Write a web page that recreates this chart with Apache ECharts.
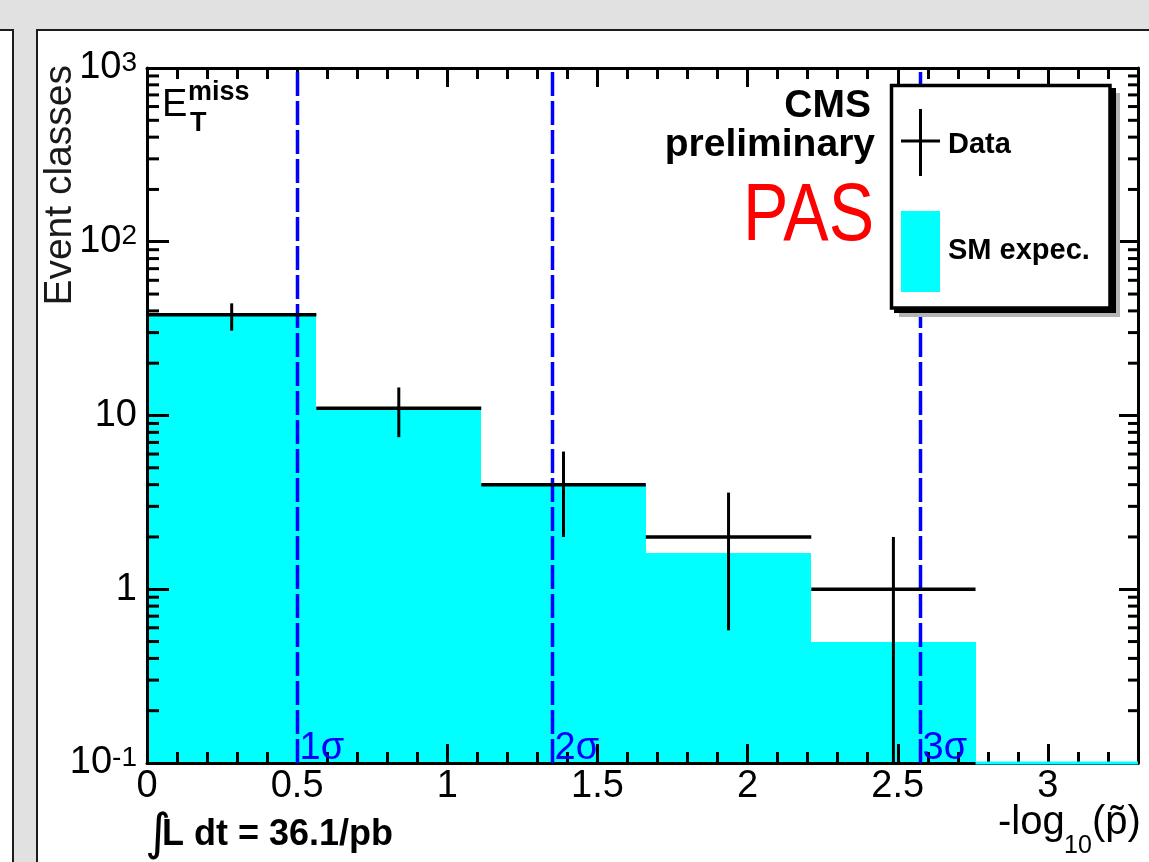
<!DOCTYPE html>
<html lang="en">
<head>
<meta charset="UTF-8">
<title>Event classes vs -log10(p)</title>
<script src="https://cdn.jsdelivr.net/npm/echarts@6.0.0/dist/echarts.min.js"></script>
<style>
  html, body { margin: 0; padding: 0; }
  body { width: 1149px; height: 862px; background: #e1e1e1; position: relative; overflow: hidden; }
  .pad-left { position: absolute; left: 0; top: 29px; width: 12px; height: 833px; background: #fff; border-top: 2px solid #1c1c1c; border-right: 2px solid #1c1c1c; }
  .pad-main { position: absolute; left: 36px; top: 29px; width: 1111px; height: 833px; background: #fff; border-top: 2px solid #1c1c1c; border-left: 2px solid #1c1c1c; }
  #chart { position: absolute; left: 0; top: 0; width: 1149px; height: 862px; }
</style>
</head>
<body>
  <div class="pad-left"></div>
  <div class="pad-main"></div>
  <div id="chart"></div>
  <script>
    // bin edges in -log10(p~)
    const binEdges = [0, 0.564, 1.113, 1.661, 2.212, 2.759, 3.3];
    // SM expectation per bin
    const smExpected = [37.9, 11.2, 3.98, 1.62, 0.497, 0];
    // observed event classes + error bars
    const dataCounts = [38, 11, 4, 2, 1, 0];
    const dataErrLow = [7.2, 3.5, 2.0, 1.42, 1.0, 0];
    const dataErrHigh = [6.2, 3.5, 2.2, 1.6, 1.0, 0];
    // 1,2,3 sigma lines
    const sigmaPos = [0.4985, 1.348, 2.575];
    const sigmaText = ['1σ', '2σ', '3σ'];
    // tick labels
    const xTickLabels = ['0', '0.5', '1', '1.5', '2', '2.5', '3'];
    const yTickVals = [0.1, 1, 10, 100, 1000];
    const yTickBase = ['10', '1', '10', '10', '10'];
    const yTickExp = ['-1', '', '', '2', '3'];

    const FONT = '"Liberation Sans", Arial, Helvetica, sans-serif';
    const X_MIN = 0, X_MAX = 3.3, Y_MIN = 0.1, Y_MAX = 1000;

    // minor log ticks 2..9 in each decade
    const yMinor = [];
    for (let d = Y_MIN; d < Y_MAX * 0.99; d *= 10) {
      for (let k = 2; k <= 9; k++) yMinor.push(+(k * d).toPrecision(3));
    }

    function xAxisCfg(pos, showLabel) {
      return {
        type: 'value', position: pos, min: X_MIN, max: X_MAX, interval: 0.5, z: 3,
        axisLine: { show: true, onZero: false, lineStyle: { color: '#000', width: 3 } },
        axisTick: { show: true, inside: true, length: 19, lineStyle: { color: '#000', width: 3 } },
        minorTick: { show: true, splitNumber: 5, length: 11, lineStyle: { color: '#000', width: 3 } },
        splitLine: { show: false },
        minorSplitLine: { show: false },
        axisLabel: {
          show: showLabel, margin: 5, fontFamily: FONT, fontSize: 38, color: '#000',
          formatter: function (val) {
            const i = Math.round(val / 0.5);
            return Math.abs(val - i * 0.5) < 1e-6 && xTickLabels[i] !== undefined ? xTickLabels[i] : '';
          }
        }
      };
    }

    function yAxisCfg(pos, showLabel, tickLen) {
      return {
        type: 'log', logBase: 10, position: pos, min: Y_MIN, max: Y_MAX, z: 3,
        axisLine: { show: true, onZero: false, lineStyle: { color: '#000', width: 3 } },
        axisTick: { show: true, inside: true, length: tickLen, lineStyle: { color: '#000', width: 3 } },
        splitLine: { show: false },
        axisLabel: {
          show: showLabel, margin: 10, color: '#000',
          formatter: function (val) {
            const i = yTickVals.findIndex(v => Math.abs(Math.log10(v) - Math.log10(val)) < 1e-6);
            if (i < 0) return '';
            return yTickExp[i] ? '{b|' + yTickBase[i] + '}{s|' + yTickExp[i] + '}' : '{p|' + yTickBase[i] + '}';
          },
          rich: {
            p: { fontFamily: FONT, fontSize: 38, lineHeight: 38, color: '#000' },
            b: { fontFamily: FONT, fontSize: 38, lineHeight: 38, padding: [8, 0, 0, 0], verticalAlign: 'bottom', color: '#000' },
            s: { fontFamily: FONT, fontSize: 28, lineHeight: 28, verticalAlign: 'top', color: '#000' }
          }
        }
      };
    }

    function txt(x, y, text, font, opts) {
      return Object.assign({
        type: 'text', x: x, y: y, z: 10, silent: true,
        style: Object.assign({ text: text, font: font, fill: '#000', align: 'left', verticalAlign: 'middle' }, (opts && opts.style) || {})
      }, (opts && opts.el) || {});
    }

    const chart = echarts.init(document.getElementById('chart'));
    chart.setOption({
      animation: false,
      grid: { left: 147, top: 68, width: 991, height: 695, containLabel: false, outerBoundsMode: 'none' },
      xAxis: [xAxisCfg('bottom', true), xAxisCfg('top', false)],
      yAxis: [yAxisCfg('left', true, 22), yAxisCfg('right', false, 19)],
      series: [
        {
          // SM expectation histogram
          type: 'custom', name: 'SM expec.', z: 2, silent: true,
          data: smExpected.map((v, i) => [binEdges[i], binEdges[i + 1], v]),
          encode: { x: [0, 1], y: 2 },
          renderItem: function (params, api) {
            const v = api.value(2);
            if (!(v > 0)) return null;
            const tl = api.coord([api.value(0), v]);
            const br = api.coord([api.value(1), Y_MIN]);
            const x0 = Math.round(tl[0]), x1 = Math.round(br[0]);
            return { type: 'rect', shape: { x: x0, y: Math.round(tl[1]), width: x1 - x0, height: br[1] - Math.round(tl[1]) }, style: { fill: '#00ffff' } };
          }
        },
        {
          // empty bins sit on the bottom axis
          type: 'custom', name: 'SM zero', z: 4, silent: true,
          data: smExpected.map((v, i) => [binEdges[i], binEdges[i + 1], v]),
          encode: { x: [0, 1], y: 2 },
          renderItem: function (params, api) {
            if (api.value(2) > 0) return null;
            const a = api.coord([api.value(0), Y_MIN]);
            const b = api.coord([api.value(1), Y_MIN]);
            return { type: 'line', shape: { x1: a[0], y1: a[1], x2: b[0], y2: b[1] }, style: { stroke: '#00ffff', lineWidth: 3 } };
          }
        },
        {
          // minor log ticks on left and right
          type: 'custom', name: 'minor', z: 3, silent: true,
          data: yMinor.map(v => [X_MIN, v]),
          renderItem: function (params, api) {
            const v = api.value(1);
            const l = api.coord([X_MIN, v]);
            const r = api.coord([X_MAX, v]);
            return {
              type: 'group', children: [
                { type: 'line', shape: { x1: l[0], y1: l[1], x2: l[0] + 12, y2: l[1] }, style: { stroke: '#000', lineWidth: 3 } },
                { type: 'line', shape: { x1: r[0] - 10, y1: r[1], x2: r[0], y2: r[1] }, style: { stroke: '#000', lineWidth: 3 } }
              ]
            };
          }
        },
        {
          // sigma lines
          type: 'custom', name: 'sigma', z: 4, silent: true,
          data: sigmaPos.map(s => [s, Y_MIN]),
          renderItem: function (params, api) {
            const x = api.value(0);
            const b = api.coord([x, Y_MIN]);
            const t = api.coord([x, Y_MAX]);
            const px = Math.round(b[0]) + 0.5;
            return {
              type: 'group', children: [
                { type: 'line', shape: { x1: px, y1: b[1], x2: px, y2: t[1] }, style: { stroke: '#0000ff', lineWidth: 3.5, lineDash: [24, 5] } },
                { type: 'text', x: px + 2, y: b[1] - 14, style: { text: sigmaText[params.dataIndex], font: '38px ' + FONT, fill: '#0000ff', align: 'left', verticalAlign: 'middle' } }
              ]
            };
          }
        },
        {
          // data with error bars
          type: 'custom', name: 'Data', z: 4, silent: true,
          data: dataCounts.map((n, i) => [binEdges[i], binEdges[i + 1], n, dataErrLow[i], dataErrHigh[i]]),
          encode: { x: [0, 1], y: 2 },
          renderItem: function (params, api) {
            const n = api.value(2);
            if (!(n > 0)) return null;
            const lo = api.value(0), hi = api.value(1), c = (lo + hi) / 2;
            const a = api.coord([lo, n]);
            const b = api.coord([hi, n]);
            const top = api.coord([c, n + api.value(4)]);
            const bot = api.coord([c, Math.max(n - api.value(3), Y_MIN)]);
            return {
              type: 'group', children: [
                { type: 'line', shape: { x1: a[0], y1: a[1], x2: b[0], y2: b[1] }, style: { stroke: '#000', lineWidth: 3.5 } },
                { type: 'line', shape: { x1: top[0], y1: top[1], x2: bot[0], y2: bot[1] }, style: { stroke: '#000', lineWidth: 3 } }
              ]
            };
          }
        }
      ],
      graphic: {
        elements: [
          // axis titles and labels
          txt(60, 65, 'Event classes', '39px ' + FONT, { style: { align: 'right', fill: '#1a1a1a' }, el: { rotation: Math.PI / 2 } }),
          txt(998, 823, '-log', '40px ' + FONT),
          txt(1064, 846, '10', '25px ' + FONT),
          txt(1092, 823, '(p̃)', '40px ' + FONT),
          txt(145, 836, '∫', '50px "DejaVu Sans", sans-serif'),
          txt(162, 835, 'L dt = 36.1/pb', 'bold 36px ' + FONT),
          // E_T^miss
          txt(162, 106, 'E', '38px ' + FONT),
          txt(188, 93, 'miss', 'bold 27px ' + FONT),
          txt(190, 124, 'T', 'bold 27px ' + FONT),
          // CMS preliminary PAS
          txt(871, 106, 'CMS', 'bold 39px ' + FONT, { style: { align: 'right' } }),
          txt(875, 145, 'preliminary', 'bold 39px ' + FONT, { style: { align: 'right' } }),
          txt(743, 217, 'PAS', '82px ' + FONT, { style: { fill: '#ff0000' }, el: { scaleX: 0.83 } }),
          // legend box with shadow
          { type: 'rect', z: 10, silent: true, shape: { x: 899, y: 93, width: 221, height: 224 }, style: { fill: '#b4b4b4' } },
          { type: 'rect', z: 10, silent: true, shape: { x: 894, y: 88, width: 222, height: 225 }, style: { fill: '#000' } },
          { type: 'rect', z: 10, silent: true, shape: { x: 891.5, y: 85.5, width: 218.5, height: 222.5 }, style: { fill: '#fff', stroke: '#000', lineWidth: 3.5 } },
          { type: 'line', z: 10, silent: true, shape: { x1: 901, y1: 141, x2: 940, y2: 141 }, style: { stroke: '#000', lineWidth: 3 } },
          { type: 'line', z: 10, silent: true, shape: { x1: 920.5, y1: 109, x2: 920.5, y2: 176 }, style: { stroke: '#000', lineWidth: 3 } },
          txt(948, 145, 'Data', 'bold 29px ' + FONT),
          { type: 'rect', z: 10, silent: true, shape: { x: 901, y: 211, width: 39, height: 81 }, style: { fill: '#00ffff' } },
          txt(948, 251, 'SM expec.', 'bold 29px ' + FONT)
        ]
      }
    });
  </script>
</body>
</html>
